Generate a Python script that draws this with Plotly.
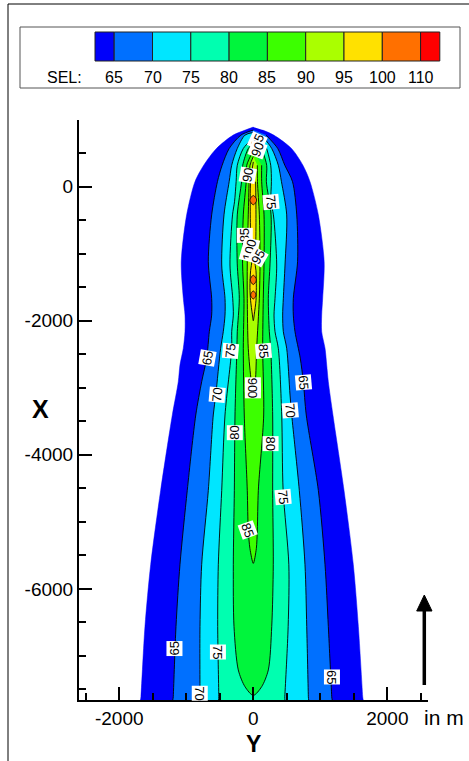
import plotly.graph_objects as go

# ---------------- data (SEL contour bands, X = along track, Y = across track, metres) ----------
LEVEL_VALUES = [60, 65, 70, 75, 80, 85, 90, 95]
LEVEL_COLORS = ["#0000FA", "#0070FF", "#00E6FF", "#00FFB0", "#00F53C", "#3CFF00", "#AAFF00", "#FFE100"]
BLOB_COLOR = "#FF7000"

SEL60_X = [890, 845, 770, 570, 320, 75, -420, -1120, -1665, -1915, -2163, -2411, -2660, -2910, -3406, -4530, -5640, -6560, -7610, -7800]
SEL60_L = [0, -120, -300, -550, -740, -870, -994, -1075, -1044, -1019, -1019, -1044, -1094, -1119, -1208, -1382, -1531, -1616, -1676, -1690]
SEL60_R = [0, 140, 305, 570, 740, 846, 970, 1057, 1035, 1020, 1020, 1070, 1095, 1119, 1188, 1353, 1492, 1567, 1632, 1645]

SEL65_X = [845, 770, 570, 320, 75, -420, -1120, -1665, -1915, -2163, -2556, -2910, -3406, -4530, -5640, -6560, -7610, -7800]
SEL65_L = [0, -185, -360, -465, -535, -621, -671, -621, -621, -656, -695, -770, -858, -985, -1094, -1153, -1194, -1205]
SEL65_R = [0, 190, 365, 470, 585, 648, 660, 597, 597, 622, 700, 746, 790, 970, 1070, 1119, 1170, 1180]

SEL70_X = [810, 770, 570, 320, 75, -420, -1168, -1665, -1915, -2163, -2411, -3108, -3406, -4530, -5640, -6560, -7610, -7800]
SEL70_L = [0, -124, -239, -322, -360, -437, -471, -422, -422, -448, -487, -560, -597, -671, -770, -795, -795, -795]
SEL70_R = [0, 125, 275, 373, 420, 498, 473, 448, 438, 448, 498, 548, 573, 686, 771, 797, 821, 825]

SEL75_X = [730, 570, 320, 75, -224, -420, -1168, -1665, -1915, -2163, -2411, -3406, -4530, -5640, -6560, -7610, -7800]
SEL75_L = [0, -149, -239, -256, -280, -310, -348, -307, -298, -322, -322, -422, -471, -522, -531, -515, -515]
SEL75_R = [0, 200, 260, 270, 262, 300, 349, 324, 309, 324, 373, 424, 445, 530, 520, 470, 460]

SEL80_X = [650, 570, 320, 75, -420, -1140, -1665, -2163, -2411, -3406, -4530, -5640, -6560, -7210, -7460, -7590]
SEL80_L = [0, -75, -158, -175, -239, -240, -209, -239, -245, -273, -283, -298, -288, -224, -124, 0]
SEL80_R = [0, 125, 200, 195, 265, 250, 224, 239, 260, 289, 289, 298, 275, 224, 125, 0]

SEL85_X = [540, 320, 75, -420, -1140, -1665, -2411, -3406, -4530, -5122, -5400, -5620]
SEL85_L = [0, -98, -106, -149, -160, -139, -149, -135, -90, -75, -50, 0]
SEL85_R = [0, 125, 125, 160, 160, 149, 140, 155, 75, 60, 45, 0]

SEL90_X = [450, 320, 75, -420, -1140, -1665, -2411, -2900, -3050]
SEL90_L = [0, -49, -62, -75, -90, -90, -75, -30, 0]
SEL90_R = [0, 60, 62, 90, 100, 90, 50, 30, 0]

SEL95_X = [370, 75, -420, -900, -1100, -1250, -1500, -1700, -1900, -2000]
SEL95_L = [0, -40, -45, -35, -20, -40, -50, -40, -15, 0]
SEL95_R = [0, 35, 40, 35, 20, 40, 45, 40, 15, 0]

# SEL 100-110 pockets along the track: centre X, half length (X), half width (Y)
BLOB100_X = [-200, -1390, -1615]
BLOB100_HL = [70, 70, 60]
BLOB100_HW = [50, 45, 40]

# contour labels: text, Y, X, angle
LABEL_TEXT = ["85", "90", "90", "75", "85", "100", "95", "65", "75", "85", "90", "90", "70", "65", "70",
              "80", "80", "75", "85", "65", "75", "70", "65"]
LABEL_Y = [55, 60, -75, 260, -134, -49, 75, -691, -333, 145, 0, 0, -546, 746, 558,
           -273, 260, 448, -75, -1179, -531, -795, 1170]
LABEL_X = [680, 560, 175, -224, -721, -944, -1044, -2556, -2451, -2451, -3050, -2960, -3108, -2924, -3332,
           -3670, -3829, -4634, -5122, -6887, -6938, -7558, -7311]
LABEL_ANGLE = [-65, -70, -80, 85, -90, -75, -60, -80, -85, 85, 90, 90, -85, 85, 85,
               -90, 90, 85, 70, -90, 90, 90, 90]

X_TICKS = [-2000, 0, 2000]
X_TICK_TEXT = ["-2000", "0", "2000"]
Y_TICKS = [-6000, -4000, -2000, 0]
Y_TICK_TEXT = ["-6000", "-4000", "-2000", "0"]

CB_COLORS = ["#0000FA", "#0070FF", "#00E6FF", "#00FFB0", "#00F53C", "#3CFF00", "#AAFF00", "#FFE100", "#FF7000", "#FF0000"]
CB_LABELS = ["65", "70", "75", "80", "85", "90", "95", "100", "110"]

# ---------------- figure ----------------
W, H = 469, 761
FONT = "Liberation Sans, Arial, sans-serif"


def pxx(x):
    return x / W


def pxy(y):
    return 1 - y / H


def band(X, L, R):
    ys = list(X)
    xs = list(L)
    for x, l, r in reversed(list(zip(X, L, R))):
        if l == r:
            continue
        xs.append(r)
        ys.append(x)
    return xs, ys


def paper_text(x, y, text, size, bold=False):
    f = dict(family=FONT, size=size, color="black")
    if bold:
        f["weight"] = "bold"
    return dict(x=pxx(x), y=pxy(y), xref="paper", yref="paper", text=text, showarrow=False,
                xanchor="center", yanchor="middle", font=f)


fig = go.Figure()
bands = [(SEL60_X, SEL60_L, SEL60_R), (SEL65_X, SEL65_L, SEL65_R), (SEL70_X, SEL70_L, SEL70_R),
         (SEL75_X, SEL75_L, SEL75_R), (SEL80_X, SEL80_L, SEL80_R), (SEL85_X, SEL85_L, SEL85_R),
         (SEL90_X, SEL90_L, SEL90_R), (SEL95_X, SEL95_L, SEL95_R)]
for i, (X, L, R) in enumerate(bands):
    xs, ys = band(X, L, R)
    edge = i == 0
    fig.add_trace(go.Scatter(
        x=xs, y=ys, mode="lines", fill="toself", fillcolor=LEVEL_COLORS[i],
        line=dict(color=LEVEL_COLORS[i] if edge else "black", width=0.5 if edge else 0.9,
                  shape="spline", smoothing=0.8),
        hoverinfo="skip", showlegend=False))

for xc, hl, hw in zip(BLOB100_X, BLOB100_HL, BLOB100_HW):
    fig.add_trace(go.Scatter(
        x=[0, -hw, 0, hw, 0], y=[xc + hl, xc, xc - hl, xc, xc + hl], mode="lines", fill="toself",
        fillcolor=BLOB_COLOR, line=dict(color="black", width=0.8, shape="spline", smoothing=1.0),
        hoverinfo="skip", showlegend=False))

annotations = []
for t, yv, xv, a in zip(LABEL_TEXT, LABEL_Y, LABEL_X, LABEL_ANGLE):
    annotations.append(dict(x=yv, y=xv, xref="x", yref="y", text=t, showarrow=False, textangle=a,
                            xanchor="center", yanchor="middle",
                            font=dict(family=FONT, size=13, color="black"), bgcolor="white",
                            borderpad=0))

# axis titles and unit text
annotations.append(paper_text(40, 409, "X", 25, bold=True))
annotations.append(paper_text(253, 744, "Y", 23, bold=True))
annotations.append(paper_text(444, 717, "in m", 21))

# frame and colour legend
shapes = []
shapes.append(dict(type="line", xref="paper", yref="paper", x0=pxx(8), x1=pxx(469), y0=pxy(4), y1=pxy(4),
                   line=dict(color="black", width=1)))
shapes.append(dict(type="line", xref="paper", yref="paper", x0=pxx(8), x1=pxx(8), y0=pxy(4), y1=pxy(761),
                   line=dict(color="black", width=1)))
shapes.append(dict(type="rect", xref="paper", yref="paper", x0=pxx(20), x1=pxx(460), y0=pxy(27), y1=pxy(88),
                   line=dict(color="#555555", width=1), fillcolor="white", layer="below"))
cb_left, cb_half, cb_full = 95.0, 19.2, 38.3
edges = [cb_left, cb_left + cb_half]
for k in range(len(CB_COLORS) - 2):
    edges.append(edges[-1] + cb_full)
edges.append(edges[-1] + cb_half)
for k, c in enumerate(CB_COLORS):
    shapes.append(dict(type="rect", xref="paper", yref="paper", x0=pxx(edges[k]), x1=pxx(edges[k + 1]),
                       y0=pxy(32), y1=pxy(61), fillcolor=c, line=dict(color="#222222", width=1)))
for k, lab in enumerate(CB_LABELS):
    annotations.append(paper_text(edges[k + 1], 78, lab, 16))
annotations.append(paper_text(64, 78, "SEL:", 16))

# direction arrow
shapes.append(dict(type="line", xref="paper", yref="paper", x0=pxx(424.3), x1=pxx(424.3), y0=pxy(685),
                   y1=pxy(608), line=dict(color="black", width=3.5)))
shapes.append(dict(type="path", xref="paper", yref="paper",
                   path=f"M {pxx(424.3)} {pxy(595)} L {pxx(416.7)} {pxy(611)} L {pxx(432)} {pxy(611)} Z",
                   fillcolor="black", line=dict(color="black", width=1)))

axis_common = dict(showgrid=False, zeroline=False, showline=True, linecolor="black", linewidth=2,
                   ticks="inside", ticklen=13, tickwidth=2, tickcolor="black",
                   tickfont=dict(family=FONT, size=19, color="black"),
                   minor=dict(ticks="inside", ticklen=7, tickwidth=1.5, tickcolor="black", dtick=500,
                              showgrid=False))

fig.update_layout(
    width=W, height=H, margin=dict(l=0, r=0, t=0, b=0),
    paper_bgcolor="white", plot_bgcolor="white",
    xaxis=dict(range=[-2600, 2600], domain=[79 / W, 427.6 / W], tickvals=X_TICKS, ticktext=X_TICK_TEXT,
               anchor="y", **axis_common),
    yaxis=dict(range=[-7660, 1000], domain=[pxy(700.1), pxy(119.7)], tickvals=Y_TICKS,
               ticktext=Y_TICK_TEXT, anchor="x", **axis_common),
    shapes=shapes, annotations=annotations, showlegend=False,
)

fig.write_html("out.html", config={"displayModeBar": False},
               post_script="document.body.style.margin='0';document.body.style.padding='0';"
                           "document.documentElement.style.overflow='hidden';")
